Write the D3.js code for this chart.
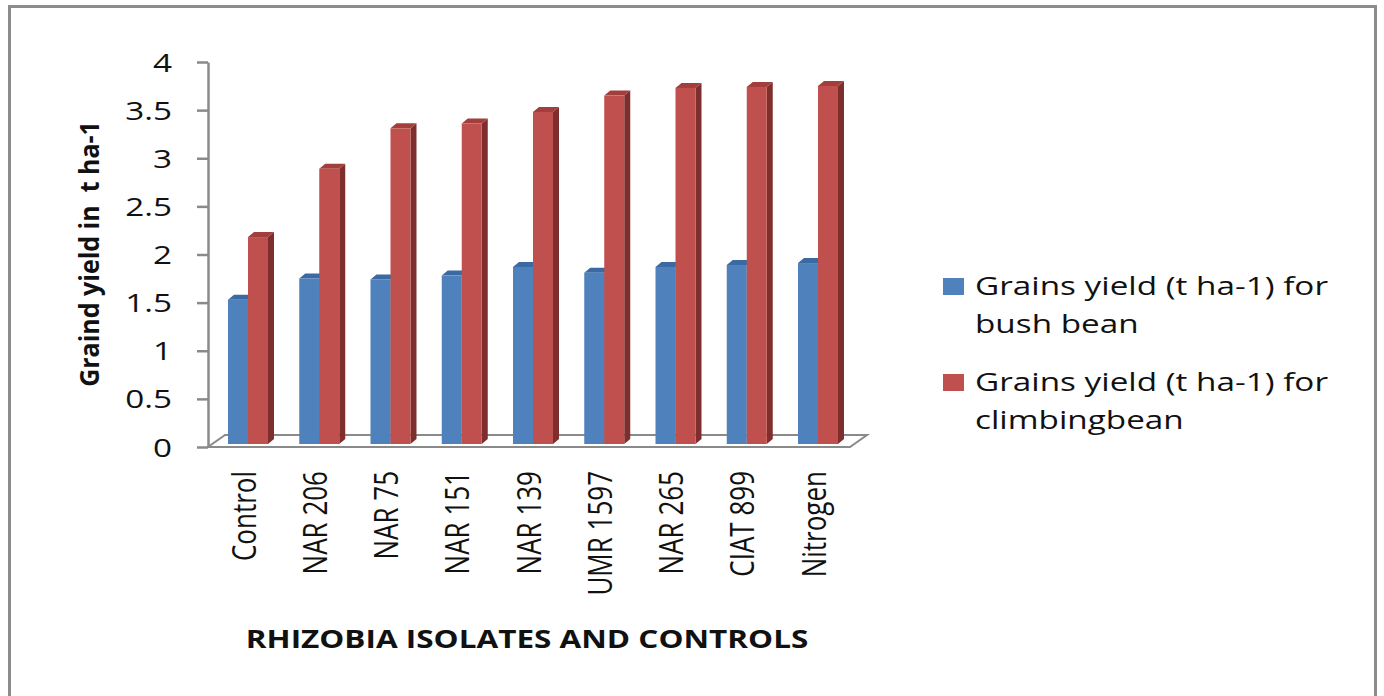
<html>
<head>
<meta charset="UTF-8">
<title>grain yield</title>
<script src="https://d3js.org/d3.v7.min.js"></script>
<style>
  body { margin: 0; background: #fff; }
  text { font-family: "Open Sans", sans-serif; fill: #111; }
</style>
</head>
<body>
<div id="chart"></div>
<script>
// data
var categories = ["Control", "NAR 206", "NAR 75", "NAR 151", "NAR 139", "UMR 1597", "NAR 265", "CIAT 899", "Nitrogen"];
var bushBean = [1.50, 1.72, 1.71, 1.75, 1.84, 1.78, 1.84, 1.86, 1.88];
var climbingBean = [2.15, 2.86, 3.28, 3.33, 3.45, 3.62, 3.70, 3.71, 3.72];
var yTicks = [0, 0.5, 1, 1.5, 2, 2.5, 3, 3.5, 4];
var legendLabels = [["Grains yield (t ha-1) for", "bush bean"], ["Grains yield (t ha-1) for", "climbingbean"]];
var seriesKeys = ["bush", "climb"];

var W = 1384, H = 696;
var sx = 1.28; // the picture is stretched sideways

var front = {bush: "#4F81BD", climb: "#C0504D"};
var topCol = {bush: "#3B6AA3", climb: "#A23F3C"};
var sideCol = {bush: "#345E92", climb: "#7E2F2D"};

var svg = d3.select("#chart").append("svg")
    .attr("width", W)
    .attr("height", H);

// outer frame
svg.append("rect")
    .attr("x", 9.5).attr("y", 6.5)
    .attr("width", 1366).attr("height", 720)
    .attr("fill", "none")
    .attr("stroke", "#8c8c8c")
    .attr("stroke-width", 3);

var left = 208, right = 850;
var y = d3.scaleLinear().domain([0, 4]).range([447, 62]);
var x = d3.scaleBand().domain(categories).range([left, right])
    .paddingInner(0.4386).paddingOuter(0.2246);
var x1 = d3.scaleBand().domain(seriesKeys).range([0, x.bandwidth()]);

// floor of the 3d plot
var fdx = 17, fdy = -12;
var floor = [[left, y(0)], [right, y(0)], [right + fdx, y(0) + fdy], [left + fdx, y(0) + fdy]];
svg.append("polygon")
    .attr("points", floor.map(function(p) { return p.join(","); }).join(" "))
    .attr("fill", "none")
    .attr("stroke", "#8a8a8a")
    .attr("stroke-width", 2);

// y axis
var yAxis = svg.append("g")
    .attr("transform", "translate(" + left + ",0)")
    .call(d3.axisLeft(y).tickValues(yTicks).tickSize(11).tickSizeOuter(0).tickFormat(function(d) { return d; }));
yAxis.select(".domain").attr("stroke", "#8a8a8a").attr("stroke-width", 2.5);
yAxis.selectAll(".tick line").attr("stroke", "#8a8a8a").attr("stroke-width", 2.5);
yAxis.selectAll(".tick text")
    .attr("x", null)
    .attr("dy", "0.35em")
    .attr("transform", "translate(-36,0) scale(" + sx + ",1)")
    .style("font-size", "26px")
    .style("font-family", "'Open Sans', sans-serif")
    .attr("fill", "#111");

// bars, drawn as 3d blocks
var bdx = 6, bdy = -5, shiftX = 4, shiftY = -3;
var rows = categories.map(function(c, i) {
    return {cat: c, vals: [{key: "bush", v: bushBean[i]}, {key: "climb", v: climbingBean[i]}]};
});
var groups = svg.append("g").selectAll("g")
    .data(rows).enter().append("g")
    .attr("transform", function(d) { return "translate(" + (x(d.cat) + shiftX) + "," + shiftY + ")"; });

groups.selectAll("g").data(function(d) { return d.vals; }).enter().append("g")
    .each(function(d) {
        var g = d3.select(this);
        var x0 = x1(d.key), w = x1.bandwidth();
        var yt = y(d.v), yb = y(0);
        g.append("polygon")
            .attr("points", [[x0 + w, yt], [x0 + w + bdx, yt + bdy], [x0 + w + bdx, yb + bdy], [x0 + w, yb]].join(" "))
            .attr("fill", sideCol[d.key]);
        g.append("polygon")
            .attr("points", [[x0, yt], [x0 + w, yt], [x0 + w + bdx, yt + bdy], [x0 + bdx, yt + bdy]].join(" "))
            .attr("fill", topCol[d.key]);
        g.append("rect")
            .attr("x", x0).attr("y", yt)
            .attr("width", w).attr("height", yb - yt)
            .attr("fill", front[d.key]);
    });

// category labels, turned upright
svg.append("g").selectAll("text")
    .data(categories).enter().append("text")
    .attr("transform", function(d) { return "translate(" + (x(d) + x.bandwidth() / 2) + ",471) scale(" + sx + ",1) rotate(-90)"; })
    .attr("text-anchor", "end")
    .attr("dy", "0.35em")
    .style("font-size", "26px")
    .text(function(d) { return d; });

// axis titles
svg.append("text")
    .attr("transform", "translate(90,254) scale(1.05,1) rotate(-90)")
    .attr("text-anchor", "middle")
    .attr("dy", "0.35em")
    .style("font-size", "25px")
    .style("font-weight", "bold")
    .style("white-space", "pre")
    .text("Graind yield in  t ha-1");

svg.append("text")
    .attr("transform", "translate(527,648) scale(1.26,1)")
    .attr("text-anchor", "middle")
    .style("font-size", "25px")
    .style("font-weight", "bold")
    .text("RHIZOBIA ISOLATES AND CONTROLS");

// legend
var legend = svg.append("g").selectAll("g")
    .data(seriesKeys).enter().append("g")
    .attr("transform", function(d, i) { return "translate(943," + (278 + i * 96) + ")"; });
legend.append("rect")
    .attr("width", 21).attr("height", 17)
    .attr("fill", function(d) { return front[d]; });
legend.each(function(d, i) {
    var t = d3.select(this).append("text")
        .attr("transform", "translate(32,17) scale(" + sx + ",1)")
        .style("font-size", "26px");
    legendLabels[i].forEach(function(line, j) {
        t.append("tspan").attr("x", 0).attr("y", j * 38).text(line);
    });
});
</script>
</body>
</html>
